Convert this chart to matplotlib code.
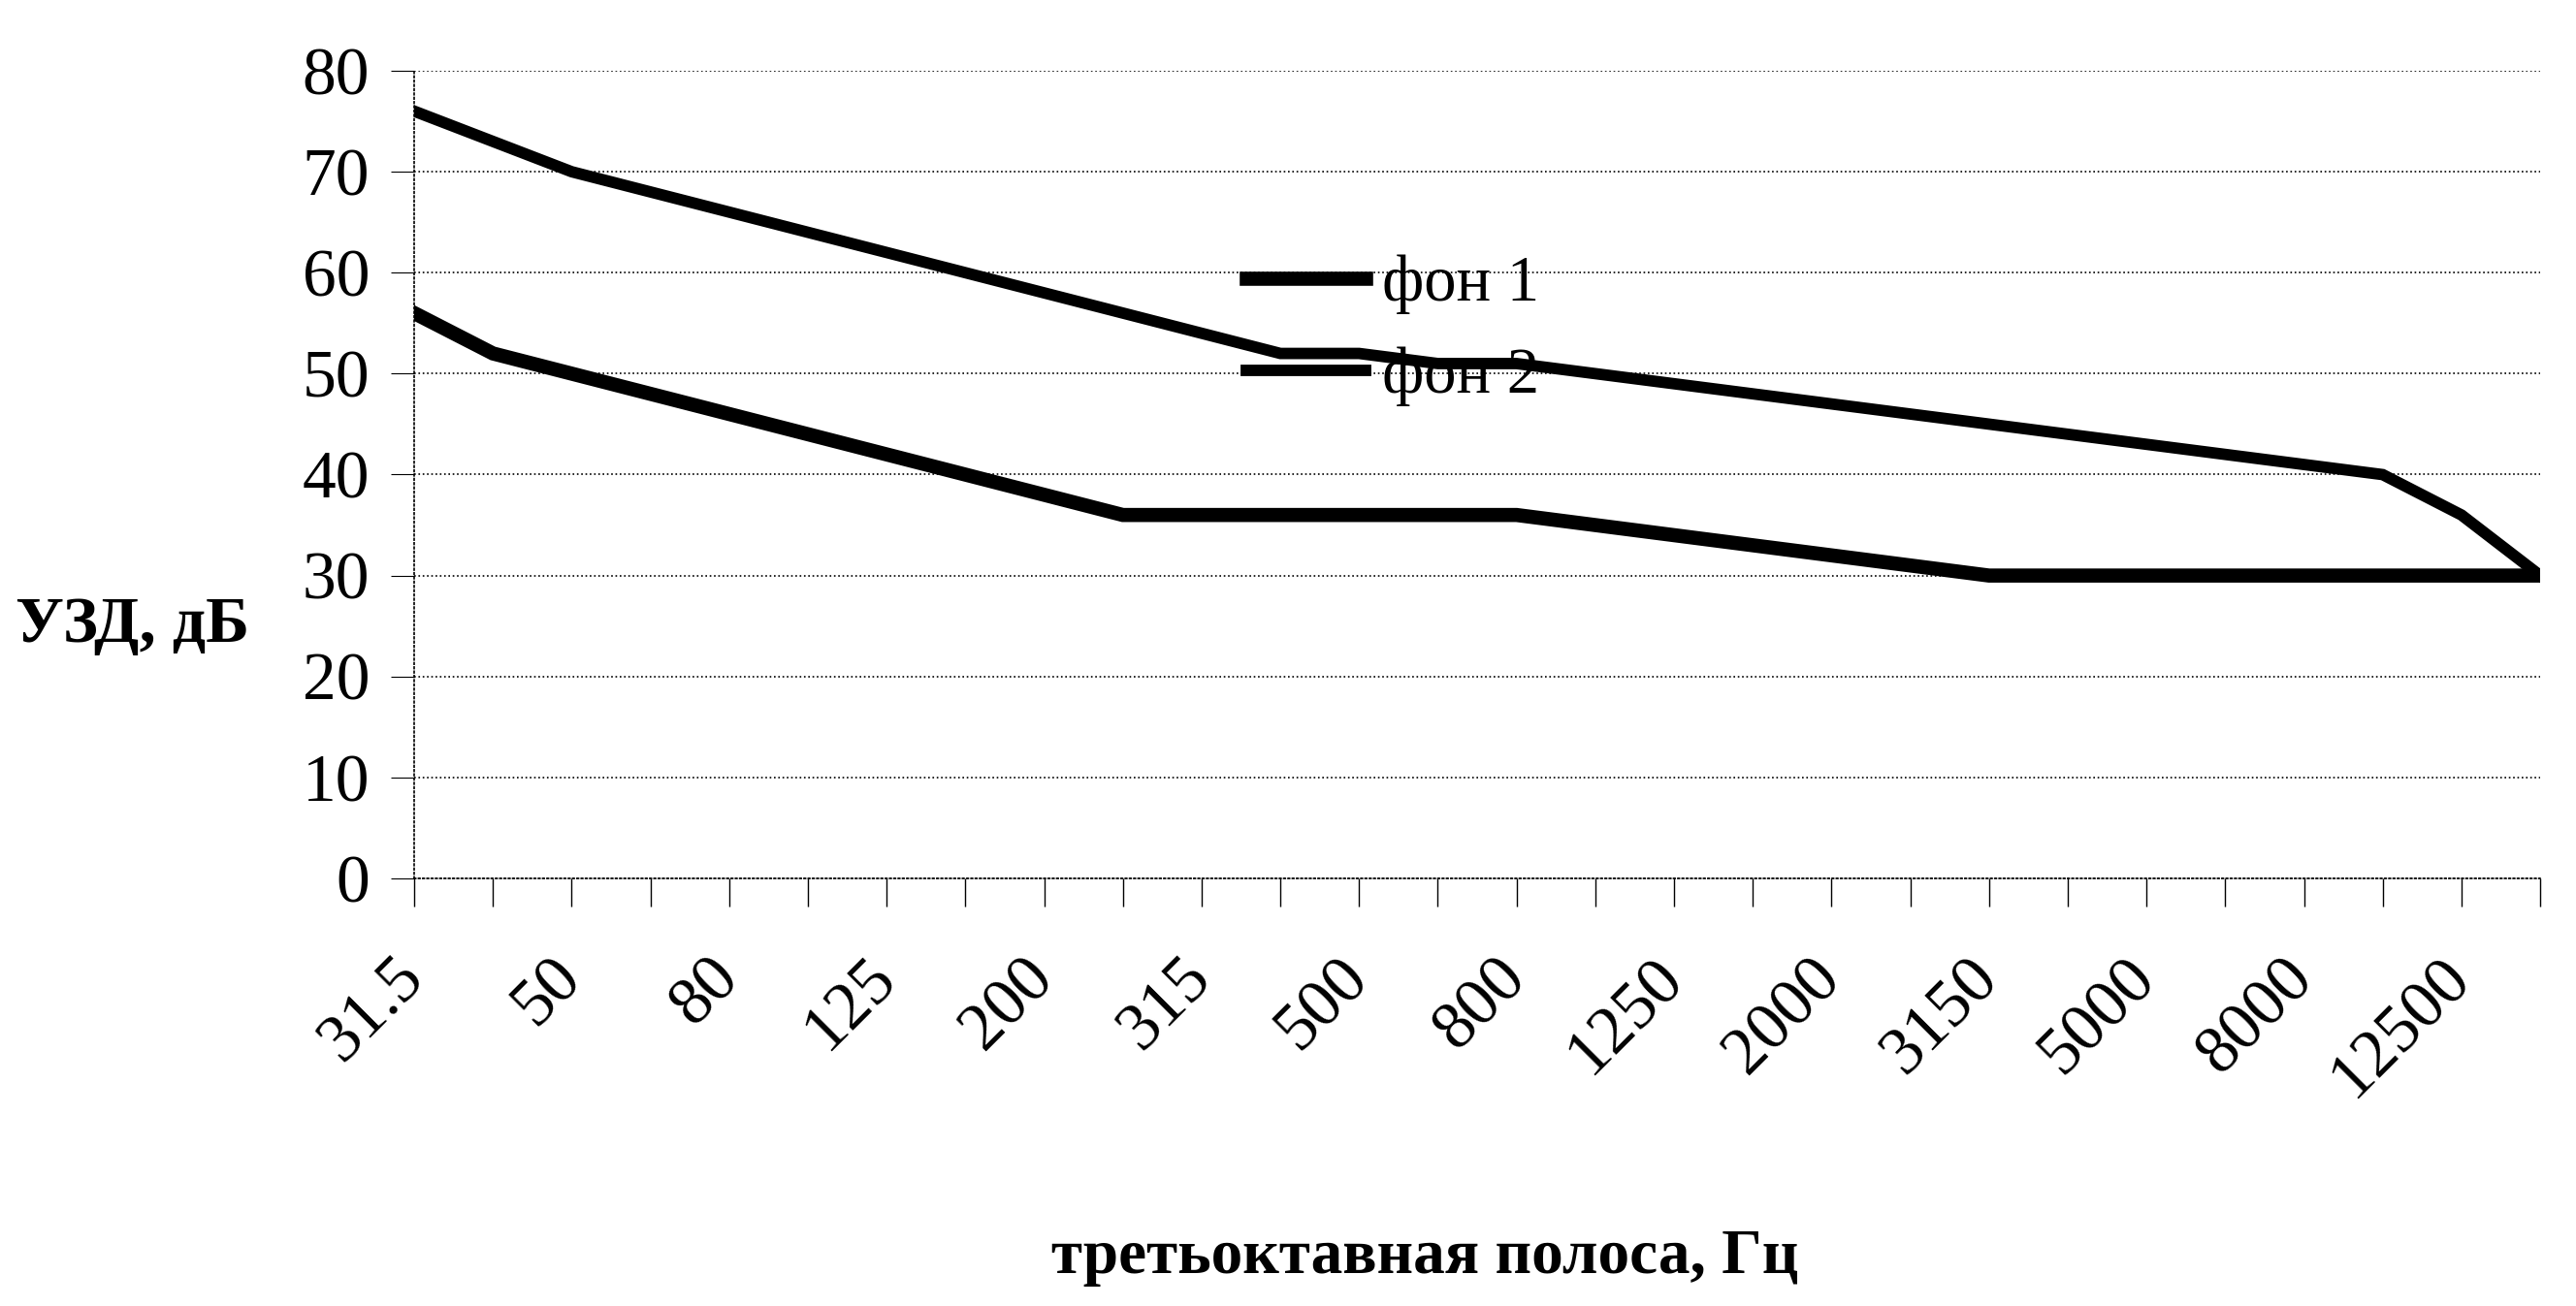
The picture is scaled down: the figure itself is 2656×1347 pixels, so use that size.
import matplotlib
matplotlib.use("Agg")
import matplotlib.pyplot as plt
import matplotlib.transforms as mtransforms

# third-octave bands, Hz
bands = ["31.5", "40", "50", "63", "80", "100", "125", "160", "200", "250",
         "315", "400", "500", "630", "800", "1000", "1250", "1600", "2000",
         "2500", "3150", "4000", "5000", "6300", "8000", "10000", "12500", "16000"]

# background levels, dB
fon1 = [56, 52, 50, 48, 46, 44, 42, 40, 38, 36,
        36, 36, 36, 36, 36, 35, 34, 33, 32, 31,
        30, 30, 30, 30, 30, 30, 30, 30]
fon2 = [76, 73, 70, 68, 66, 64, 62, 60, 58, 56,
        54, 52, 52, 51, 51, 50, 49, 48, 47, 46,
        45, 44, 43, 42, 41, 40, 36, 30]

yticks = [0, 10, 20, 30, 40, 50, 60, 70, 80]

plt.rcParams['font.family'] = ['Liberation Serif', 'DejaVu Serif']

fig = plt.figure(figsize=(26.56, 13.47), dpi=100)
ax = fig.add_axes([0.1608, 0.3274, 0.8253, 0.6184])

x = list(range(len(bands)))
ax.plot(x, fon1, color='black', lw=10.5, solid_joinstyle='miter', label='фон 1')
ax.plot(x, fon2, color='black', lw=8.5, solid_joinstyle='miter', label='фон 2')

ax.set_xlim(0, len(bands) - 1)
ax.set_ylim(0, 80)
ax.set_yticks(yticks)
ax.set_yticklabels([str(v) for v in yticks], fontsize=50)
ax.grid(axis='y', linestyle=':', color='black', lw=1.2)
ax.set_axisbelow(True)

ax.set_xticks(x)
ax.set_xticklabels([b if i % 2 == 0 else '' for i, b in enumerate(bands)],
                   rotation=45, ha='right', va='center', rotation_mode='anchor',
                   fontsize=50)
offset = mtransforms.ScaledTranslation(8 / 100, 0, fig.dpi_scale_trans)
for lbl in ax.get_xticklabels():
    lbl.set_transform(lbl.get_transform() + offset)

ax.tick_params(axis='x', length=21, width=1, pad=46, color='black')
ax.tick_params(axis='y', length=17, width=0.8, pad=16, color='black')

for s in ['top', 'right']:
    ax.spines[s].set_visible(False)
ax.spines['left'].set_linestyle(':')
ax.spines['left'].set_linewidth(1.2)
ax.spines['bottom'].set_linestyle(':')
ax.spines['bottom'].set_linewidth(1.2)

fig.text(0.553, 0.037, 'третьоктавная полоса, Гц', fontsize=47,
         fontweight='bold', ha='center', va='center')
fig.text(0.006, 0.521, 'УЗД, дБ', fontsize=49, fontweight='bold',
         ha='left', va='center')

ax.legend(loc='center left', bbox_to_anchor=(0.4838, 0.747),
          bbox_transform=fig.transFigure, frameon=False, fontsize=48,
          handlelength=1.85, handletextpad=0.25, labelspacing=0.5,
          borderpad=0, borderaxespad=0)

fig.savefig('out.png', dpi=100)
